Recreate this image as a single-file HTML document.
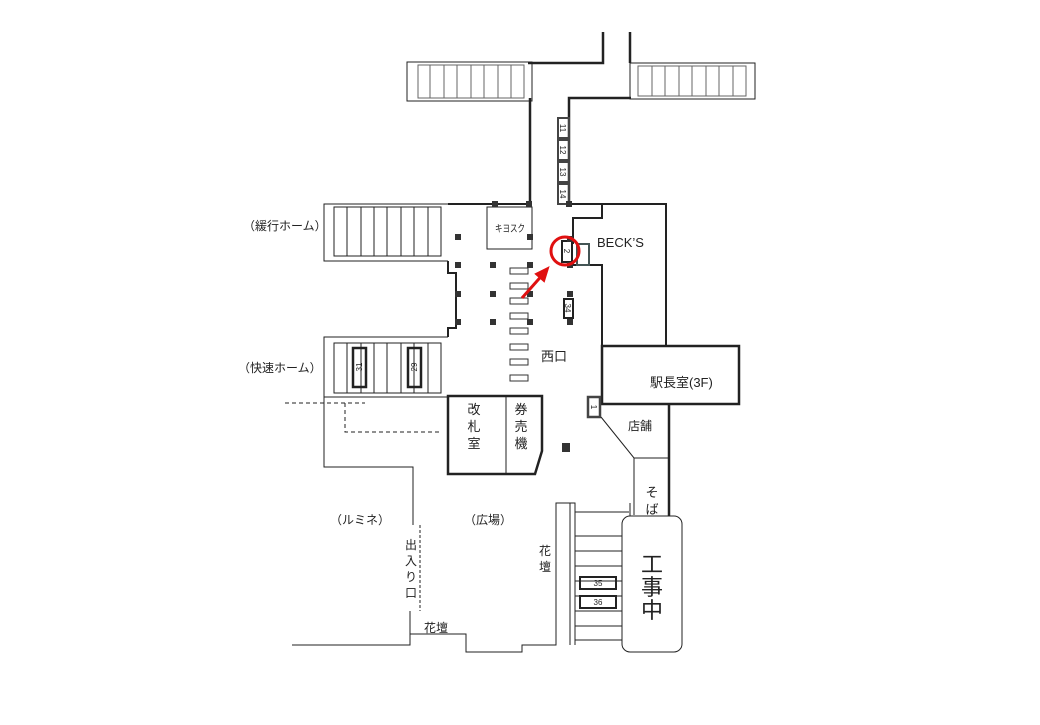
<!DOCTYPE html>
<html><head><meta charset="utf-8"><style>
html,body{margin:0;padding:0;background:#fff}
svg text{font-family:"Liberation Sans","Noto Sans CJK JP",sans-serif;fill:#222}
</style></head><body>
<svg width="1040" height="720" viewBox="0 0 1040 720" xmlns="http://www.w3.org/2000/svg">
<g fill="none" stroke="#222" stroke-width="1">
<path d="M603 32V63H528M630 32V63" stroke-width="2.5"/>
<rect x="407" y="62" width="125" height="39"/>
<rect x="418" y="65" width="106" height="33" stroke="#666"/>
<path d="M430 65V98M444 65V98M457 65V98M471 65V98M484 65V98M498 65V98M511 65V98" stroke="#666"/>
<rect x="630" y="63" width="125" height="36"/>
<rect x="638" y="66" width="108" height="30" stroke="#666"/>
<path d="M652 66V96M665 66V96M679 66V96M692 66V96M706 66V96M719 66V96M733 66V96" stroke="#666"/>
<path d="M530 98V204M569 204V98H631" stroke-width="2.5"/>
<g stroke="#444" stroke-width="2"><rect x="558" y="118" width="11" height="20"/><rect x="558" y="140" width="11" height="20"/><rect x="558" y="162" width="11" height="20"/><rect x="558" y="184" width="11" height="20"/></g>
<path d="M448 204H530M569 204H602V218H573V244M573 262V265H602V346M602 204H666V346" stroke-width="2"/>
<rect x="562" y="241" width="10" height="21" stroke-width="2"/>
<rect x="577" y="244" width="12" height="21" stroke-width="2" stroke="#455"/>
<rect x="564" y="299" width="9" height="19" stroke-width="2"/>
<rect x="487" y="207" width="45" height="42"/>
<path d="M448 204H324V261H448"/>
<rect x="334" y="207" width="107" height="49"/>
<path d="M347 207V256M361 207V256M374 207V256M387 207V256M401 207V256M414 207V256M428 207V256"/>
<path d="M448 261V273H456V328H448V337" stroke-width="2"/>
<path d="M448 337H324V397H448"/>
<rect x="334" y="343" width="107" height="50"/>
<path d="M347 343V393M361 343V393M374 343V393M387 343V393M401 343V393M414 343V393M428 343V393"/>
<rect x="353" y="348" width="13" height="39" stroke-width="2.5"/>
<rect x="408" y="348" width="13" height="39" stroke-width="2.5"/>
<g stroke="#333"><rect x="510" y="268" width="18" height="6"/><rect x="510" y="283" width="18" height="6"/><rect x="510" y="298" width="18" height="6"/><rect x="510" y="313" width="18" height="6"/><rect x="510" y="328" width="18" height="6"/><rect x="510" y="344" width="18" height="6"/><rect x="510" y="359" width="18" height="6"/><rect x="510" y="375" width="18" height="6"/></g>
<rect x="602" y="346" width="137" height="58" stroke-width="2.5"/>
<path d="M448 396H542V451L535 474H448Z" stroke-width="2.5"/>
<path d="M506 396V474"/>
<rect x="588" y="397" width="12" height="20" stroke-width="2.5" stroke="#444"/>
<path d="M601 417L634 458H669M634 458V515"/>
<path d="M669 404V516" stroke-width="2.5"/>
<path d="M324 397V467H413V525M410 611V645H292"/>
<path d="M420 525V611" stroke-dasharray="3,2"/>
<path d="M285 403H365M345 403V432H440" stroke-dasharray="4,3"/>
<path d="M410 634H466V652H522V645H556V503H575V645M570 503V645"/>
<path d="M575 512H629M575 536H622M575 551H622M575 566H622M575 581H622M575 596H622M575 611H622M575 626H622M575 640H622M630 503V516"/>
<rect x="580" y="577" width="36" height="12" stroke-width="2"/>
<rect x="580" y="596" width="36" height="12" stroke-width="2"/>
<rect x="622" y="516" width="60" height="136" rx="8" fill="#fff"/>
</g>
<g fill="#333">
<rect x="455" y="234" width="6" height="6"/><rect x="455" y="262" width="6" height="6"/><rect x="455" y="291" width="6" height="6"/><rect x="455" y="319" width="6" height="6"/>
<rect x="490" y="262" width="6" height="6"/><rect x="490" y="291" width="6" height="6"/><rect x="490" y="319" width="6" height="6"/>
<rect x="527" y="234" width="6" height="6"/><rect x="527" y="262" width="6" height="6"/><rect x="527" y="291" width="6" height="6"/><rect x="527" y="319" width="6" height="6"/>
<rect x="526" y="201" width="6" height="6"/><rect x="492" y="201" width="6" height="6"/><rect x="566" y="201" width="6" height="6"/>
<rect x="567" y="236" width="6" height="6"/><rect x="567" y="262" width="6" height="6"/><rect x="567" y="291" width="6" height="6"/><rect x="567" y="319" width="6" height="6"/>
<rect x="562" y="443" width="8" height="9"/>
</g>
<circle cx="565" cy="251" r="14" fill="none" stroke="#e01010" stroke-width="3"/>
<path d="M522 298L545 272" stroke="#e01010" stroke-width="3"/>
<path d="M548 268L536 274L544 281Z" fill="#e01010" stroke="#e01010" stroke-width="2"/>
<g font-size="8" text-anchor="middle">
<text transform="translate(563,128) rotate(90)" x="0" y="3">11</text>
<text transform="translate(563,150) rotate(90)" x="0" y="3">12</text>
<text transform="translate(563,172) rotate(90)" x="0" y="3">13</text>
<text transform="translate(563,194) rotate(90)" x="0" y="3">14</text>
<text transform="translate(567,251) rotate(90)" x="0" y="3">2</text>
<text transform="translate(568,308) rotate(90)" x="0" y="3">34</text>
<text transform="translate(359,367) rotate(-90)" x="0" y="3">31</text>
<text transform="translate(414,367) rotate(-90)" x="0" y="3">29</text>
<text transform="translate(594,407) rotate(90)" x="0" y="3">1</text>
<text x="598" y="586">35</text><text x="598" y="605">36</text>
</g>
<g font-size="12">
<text x="243" y="230">（緩行ホーム）</text>
<text x="238" y="372">（快速ホーム）</text>
<text x="495" y="232" font-size="10" textLength="30" lengthAdjust="spacingAndGlyphs">キヨスク</text>
<text x="597" y="247" font-size="13">BECK’S</text>
<text x="541" y="361" font-size="13">西口</text>
<text x="650" y="387" font-size="13">駅長室(3F)</text>
<text x="628" y="430">店舗</text>
<text x="330" y="524">（ルミネ）</text>
<text x="464" y="524">（広場）</text>
<text x="424" y="632">花壇</text>
</g>
<g font-size="13" text-anchor="middle">
<text x="474" y="414">改</text><text x="474" y="431">札</text><text x="474" y="448">室</text>
<text x="521" y="414">券</text><text x="521" y="431">売</text><text x="521" y="448">機</text>
<text x="652" y="497">そ</text><text x="652" y="514">ば</text>
<text x="545" y="555" font-size="12">花</text><text x="545" y="571" font-size="12">壇</text>
<text x="411" y="549" font-size="12">出</text><text x="411" y="565" font-size="12">入</text><text x="411" y="581" font-size="12">り</text><text x="411" y="597" font-size="12">口</text>
<text x="652" y="572" font-size="22">工</text><text x="652" y="595" font-size="22">事</text><text x="652" y="618" font-size="22">中</text>
</g>
</svg>
</body></html>
